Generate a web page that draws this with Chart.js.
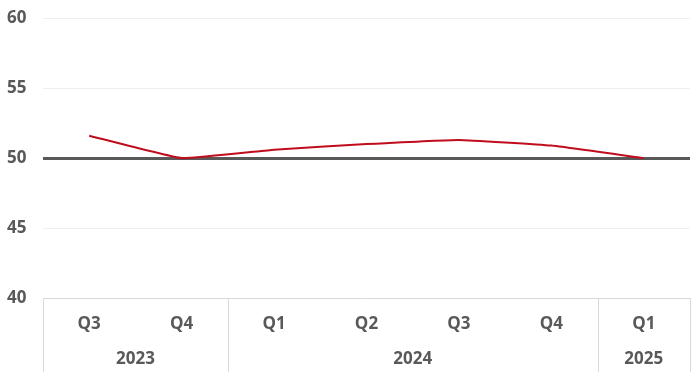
<!DOCTYPE html>
<html>
<head>
<meta charset="utf-8">
<script src="https://cdn.jsdelivr.net/npm/chart.js@4.4.1/dist/chart.umd.min.js"></script>
<style>
  html, body { margin: 0; padding: 0; background: #fff; }
  #wrap { width: 700px; height: 377px; }
</style>
</head>
<body>
<div id="wrap"><canvas id="chart"></canvas></div>
<script>
// quarters along the x axis, grouped by year
const quarters = ['Q3', 'Q4', 'Q1', 'Q2', 'Q3', 'Q4', 'Q1'];
const years = ['2023', '2024', '2025'];
const yearSpans = [2, 4, 1];
const values = [51.6, 50.0, 50.6, 51.0, 51.3, 50.9, 50.0];
const yTicks = [40, 45, 50, 55, 60];

const textColor = '#595959';
const labelFont = 'bold 17px "Open Sans"';

// draws the two-level category axis (quarters + years) under the plot
const groupAxis = {
  id: 'groupAxis',
  afterDraw(chart) {
    const { ctx, chartArea } = chart;
    const x = chart.scales.x;
    const step = (chartArea.right - chartArea.left) / quarters.length;
    const top = chartArea.bottom;
    const bottom = top + 74;

    ctx.save();
    // separators at the year boundaries
    ctx.strokeStyle = '#d9d9d9';
    ctx.lineWidth = 1;
    let idx = 0;
    const edges = [0];
    yearSpans.forEach(s => { idx += s; edges.push(idx); });
    edges.forEach(e => {
      const px = Math.round(chartArea.left + e * step) + 0.5;
      ctx.beginPath();
      ctx.moveTo(px, top);
      ctx.lineTo(px, bottom);
      ctx.stroke();
    });

    ctx.fillStyle = textColor;
    ctx.font = labelFont;
    ctx.textAlign = 'center';
    ctx.textBaseline = 'middle';
    quarters.forEach((q, i) => {
      ctx.fillText(q, x.getPixelForValue(i), top + 26);
    });
    years.forEach((y, i) => {
      const cx = chartArea.left + (edges[i] + edges[i + 1]) / 2 * step;
      ctx.fillText(y, cx, top + 61);
    });
    ctx.restore();
  }
};

new Chart(document.getElementById('chart'), {
  type: 'line',
  data: {
    labels: quarters,
    datasets: [{
      data: values,
      borderColor: '#c00d1e',
      borderWidth: 2,
      pointRadius: 0,
      tension: 0.1,
      fill: false
    }]
  },
  options: {
    responsive: true,
    maintainAspectRatio: false,
    animation: false,
    layout: { padding: { top: 8, right: 10, bottom: 79, left: 7 } },
    plugins: {
      legend: { display: false },
      tooltip: { enabled: false }
    },
    scales: {
      x: {
        display: false,
        offset: true
      },
      y: {
        min: 40,
        max: 60,
        afterBuildTicks: scale => { scale.ticks = yTicks.map(v => ({ value: v })); },
        afterFit: scale => { scale.width = 36; },
        border: { display: false },
        grid: {
          drawTicks: false,
          color: c => c.tick.value === 50 ? '#595959' : (c.tick.value === 40 ? '#d9d9d9' : '#efefef'),
          lineWidth: c => c.tick.value === 50 ? 3 : 1
        },
        ticks: {
          color: textColor,
          font: { family: 'Open Sans', size: 17, weight: 'bold' },
          padding: 8,
          crossAlign: 'far'
        }
      }
    }
  },
  plugins: [groupAxis]
});
</script>
</body>
</html>
